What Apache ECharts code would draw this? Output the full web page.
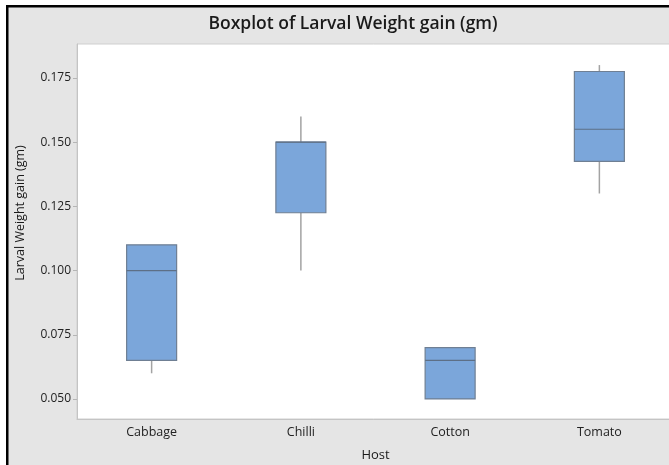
<!DOCTYPE html>
<html>
<head>
<meta charset="utf-8">
<script src="https://cdn.jsdelivr.net/npm/echarts@6/dist/echarts.min.js"></script>
<style>
  html, body { margin: 0; padding: 0; background: #fff; }
  #chart { width: 669px; height: 465px; }
</style>
</head>
<body>
<div id="chart"></div>
<script>
  // data
  const hosts = ['Cabbage', 'Chilli', 'Cotton', 'Tomato'];
  const whiskerLow = [0.06, 0.10, 0.05, 0.13];
  const q1 = [0.065, 0.1225, 0.05, 0.1425];
  const median = [0.10, 0.15, 0.065, 0.155];
  const q3 = [0.11, 0.15, 0.07, 0.1775];
  const whiskerHigh = [0.11, 0.16, 0.07, 0.18];
  const yTicks = [0.05, 0.075, 0.1, 0.125, 0.15, 0.175];

  const boxData = hosts.map(function (h, i) {
    return [i, whiskerLow[i], q1[i], median[i], q3[i], whiskerHigh[i]];
  });

  const myChart = echarts.init(document.getElementById('chart'));

  function renderBox(params, api) {
    const x = api.value(0);
    const pLow = api.coord([x, api.value(1)]);
    const pQ1 = api.coord([x, api.value(2)]);
    const pMed = api.coord([x, api.value(3)]);
    const pQ3 = api.coord([x, api.value(4)]);
    const pHigh = api.coord([x, api.value(5)]);
    const halfW = 25;
    const cx = pQ1[0];
    const whiskerStyle = { stroke: '#a3a3a3', lineWidth: 1.5 };
    return {
      type: 'group',
      children: [
        { type: 'line', shape: { x1: cx, y1: pHigh[1], x2: cx, y2: pQ3[1] }, style: whiskerStyle },
        { type: 'line', shape: { x1: cx, y1: pQ1[1], x2: cx, y2: pLow[1] }, style: whiskerStyle },
        {
          type: 'rect',
          shape: { x: cx - halfW, y: pQ3[1], width: halfW * 2, height: pQ1[1] - pQ3[1] },
          style: { fill: '#7ba6da', stroke: '#6f7f93', lineWidth: 1.2 }
        },
        {
          type: 'line',
          shape: { x1: cx - halfW, y1: pMed[1], x2: cx + halfW, y2: pMed[1] },
          style: { stroke: '#5d6f86', lineWidth: 1.2 }
        }
      ]
    };
  }

  const option = {
    backgroundColor: '#e5e5e5',
    animation: false,
    title: {
      text: 'Boxplot of Larval Weight gain (gm)',
      left: 348,
      top: 10,
      textAlign: 'center',
      textStyle: { fontFamily: 'Open Sans', fontSize: 17.5, fontWeight: 600, color: '#1a1a1a' }
    },
    graphic: [
      { type: 'rect', left: 0, top: 0, shape: { width: 669, height: 5 }, style: { fill: '#fff' } },
      { type: 'rect', left: 0, top: 0, shape: { width: 6, height: 465 }, style: { fill: '#fff' } },
      { type: 'rect', left: 6, top: 5, shape: { width: 663, height: 2.5 }, style: { fill: '#000' } },
      { type: 'rect', left: 6, top: 5, shape: { width: 2.5, height: 460 }, style: { fill: '#000' } },
      {
        type: 'text',
        x: 20,
        y: 213,
        rotation: Math.PI / 2,
        style: {
          text: 'Larval Weight gain (gm)',
          fontFamily: 'Open Sans',
          fontSize: 12.5,
          fill: '#1a1a1a',
          align: 'center',
          verticalAlign: 'middle'
        }
      }
    ],
    grid: {
      left: 77,
      right: -5,
      top: 44,
      bottom: 46,
      outerBoundsMode: 'none',
      containLabel: false,
      show: true,
      backgroundColor: '#fff',
      borderColor: '#cfcfcf',
      borderWidth: 1
    },
    xAxis: {
      type: 'category',
      data: hosts,
      name: 'Host',
      nameLocation: 'middle',
      nameGap: 30,
      nameTextStyle: { fontFamily: 'Open Sans', fontSize: 13, color: '#1a1a1a' },
      axisLine: { lineStyle: { color: '#c4c4c4' } },
      axisTick: { alignWithLabel: true, length: 3, lineStyle: { color: '#b5b5b5' } },
      axisLabel: { fontFamily: 'Open Sans', fontSize: 12.5, color: '#222', margin: 7 }
    },
    yAxis: {
      type: 'value',
      min: 0.0422,
      max: 0.1882,
      axisLine: { show: true, lineStyle: { color: '#c4c4c4' } },
      axisTick: { show: true, length: 4, customValues: yTicks, lineStyle: { color: '#b5b5b5' } },
      axisLabel: {
        customValues: yTicks,
        fontFamily: 'Open Sans',
        fontSize: 12,
        color: '#222',
        margin: 6,
        formatter: function (v) { return v.toFixed(3); }
      },
      splitLine: { show: false }
    },
    series: [{
      type: 'custom',
      renderItem: renderBox,
      encode: { x: 0, y: [1, 2, 3, 4, 5] },
      data: boxData
    }]
  };

  myChart.setOption(option);
</script>
</body>
</html>
